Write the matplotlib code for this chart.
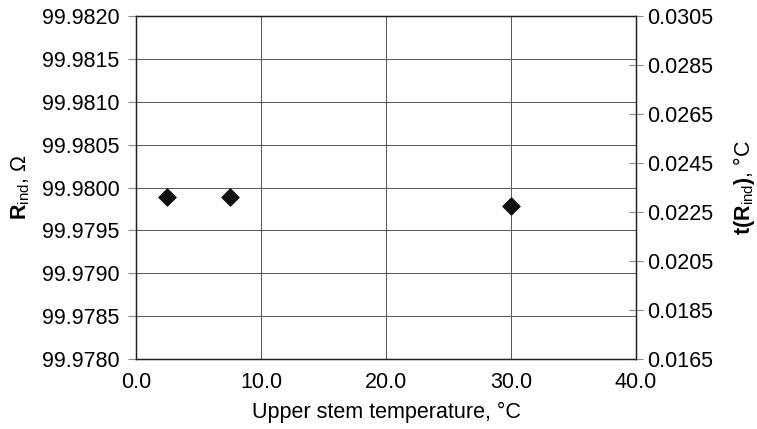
import matplotlib
matplotlib.use('Agg')
import matplotlib.pyplot as plt
import numpy as np

matplotlib.rcParams['font.family'] = ['Liberation Sans', 'DejaVu Sans']
matplotlib.rcParams['font.size'] = 15.5
matplotlib.rcParams['mathtext.fontset'] = 'custom'
matplotlib.rcParams['mathtext.rm'] = 'Liberation Sans'
matplotlib.rcParams['mathtext.bf'] = 'Liberation Sans:bold'

# data
stem_temp = [2.5, 7.5, 30.0]
r_ind = [99.97989, 99.97989, 99.97978]

x_ticks = [0, 10, 20, 30, 40]
left_ticks = np.arange(99.9780, 99.98201, 0.0005)
right_ticks = np.arange(0.0165, 0.03051, 0.002)

fig = plt.figure(figsize=(7.57, 4.29), dpi=100)
ax = fig.add_axes([136 / 757, 1 - 359 / 429, (636 - 136) / 757, (359 - 16) / 429])

ax.scatter(stem_temp, r_ind, marker='D', s=75, color='#111111', zorder=3)

ax.set_xlim(0, 40)
ax.set_ylim(99.9780, 99.9820)
ax.set_xticks(x_ticks)
ax.set_xticklabels([f"{v:.1f}" for v in x_ticks])
ax.set_yticks(left_ticks)
ax.set_yticklabels([f"{v:.4f}" for v in left_ticks])
ax.grid(True, color='#555555', linewidth=0.7)
ax.tick_params(axis='x', length=0, pad=9)
ax.tick_params(axis='y', direction='out', length=6, color='#888888', pad=6)
for s in ax.spines.values():
    s.set_color('#222222')
    s.set_linewidth(1.0)

ax.set_xlabel('Upper stem temperature, °C', labelpad=7)
ax.set_ylabel(r'$\mathbf{R}_{\mathrm{ind}}$, Ω', labelpad=7)

ax2 = ax.twinx()
ax2.set_ylim(0.0165, 0.0305)
ax2.set_yticks(right_ticks)
ax2.set_yticklabels([f"{v:.4f}" for v in right_ticks])
ax2.tick_params(axis='y', direction='inout', length=10, color='#888888', pad=3)
ax2.set_ylabel(r'$\mathbf{t(R}_{\mathrm{ind}}\mathbf{)}$, °C', labelpad=13)
for s in ax2.spines.values():
    s.set_color('#222222')

fig.savefig('out.png', dpi=100)
